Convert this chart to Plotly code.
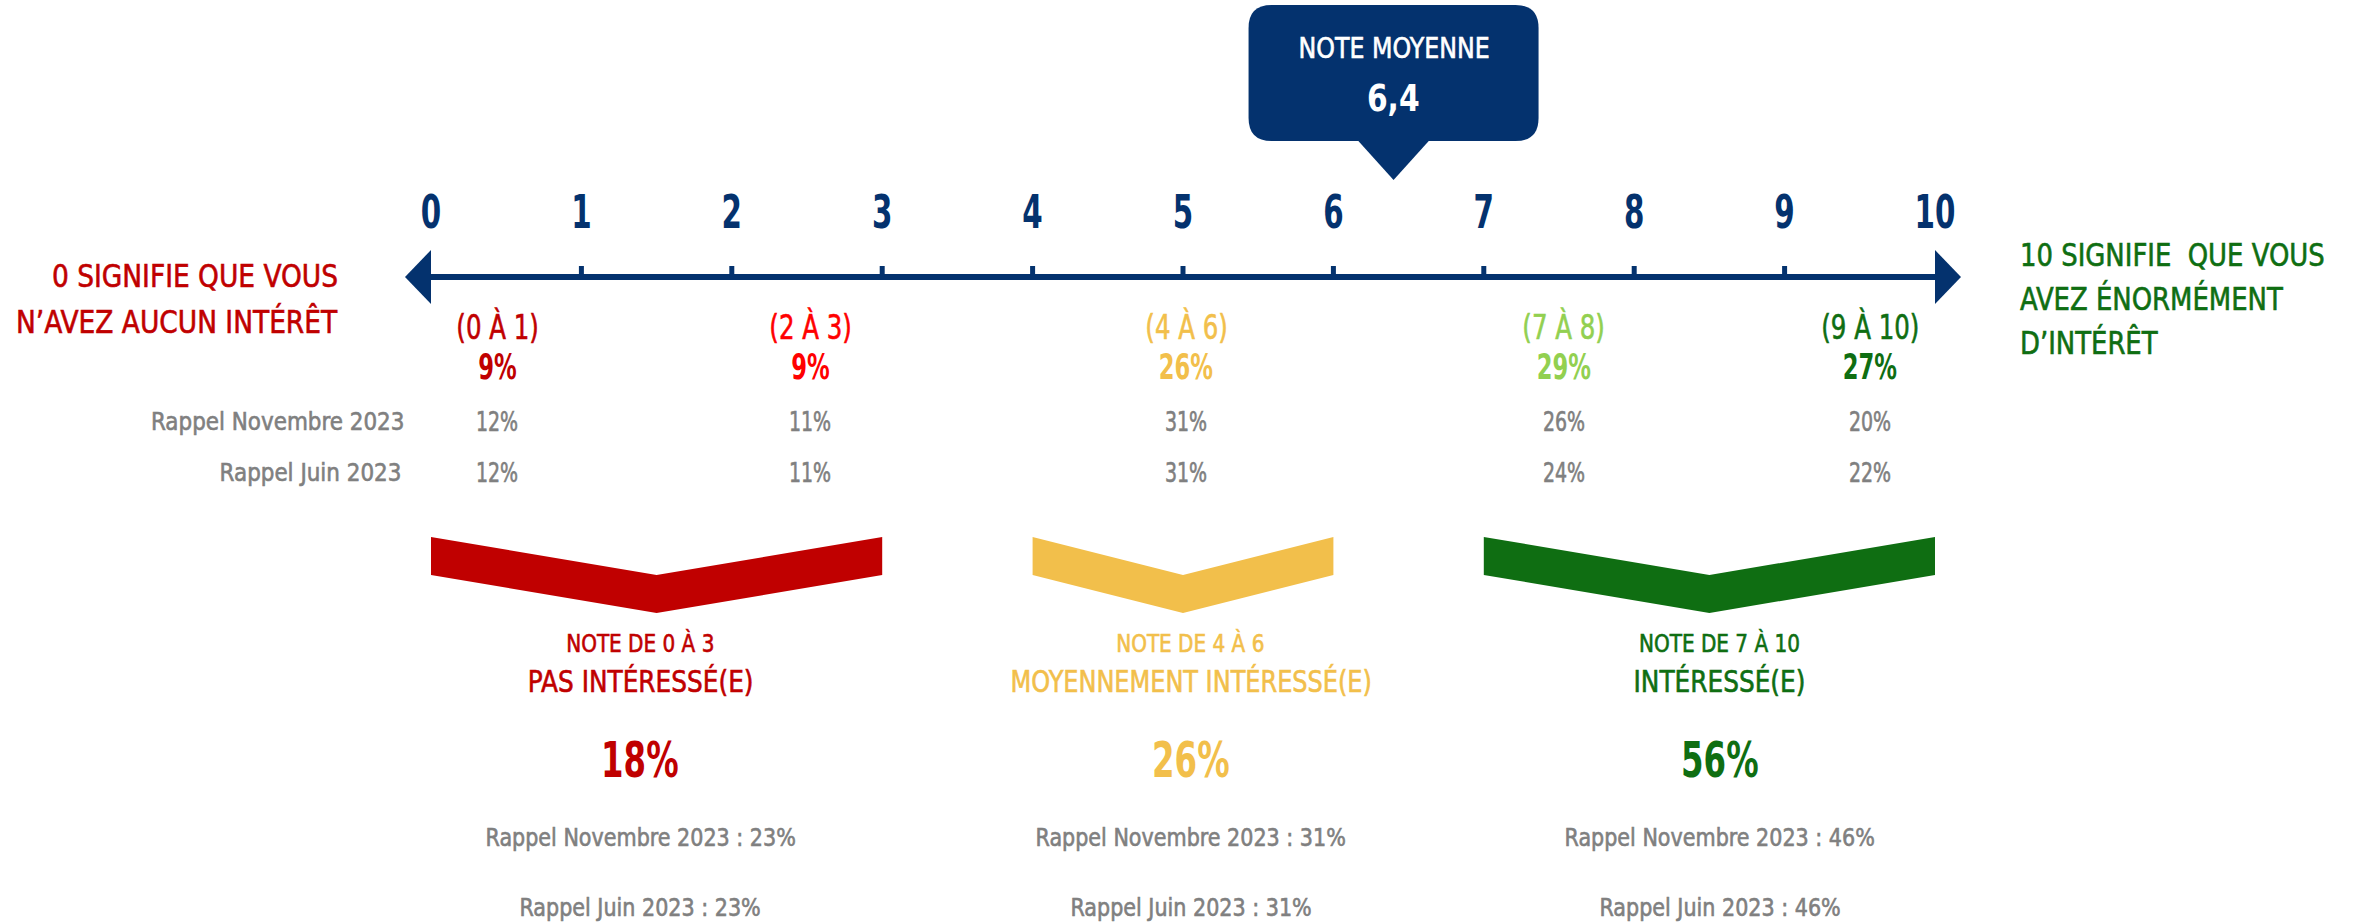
import json
import plotly.graph_objects as go

# ---------------- data ----------------
scale_ticks = [0, 1, 2, 3, 4, 5, 6, 7, 8, 9, 10]
inner_ticks = [1, 2, 3, 4, 5, 6, 7, 8, 9]
mean_score = 6.4
mean_label = "6,4"
mean_title = "NOTE MOYENNE"

cat_labels = ["(0 À 1)", "(2 À 3)", "(4 À 6)", "(7 À 8)", "(9 À 10)"]
cat_pct = [9, 9, 26, 29, 27]
cat_rappel_nov = [12, 11, 31, 26, 20]
cat_rappel_juin = [12, 11, 31, 24, 22]

grp_ranges = [(0, 3), (4, 6), (7, 10)]
grp_titles = ["NOTE DE 0 À 3", "NOTE DE 4 À 6", "NOTE DE 7 À 10"]
grp_labels = ["PAS INTÉRESSÉ(E)", "MOYENNEMENT INTÉRESSÉ(E)", "INTÉRESSÉ(E)"]
grp_pct = [18, 26, 56]
grp_rappel_nov = [23, 31, 46]
grp_rappel_juin = [23, 31, 46]

row_labels = ["Rappel Novembre 2023", "Rappel Juin 2023"]
left_text = ["0 SIGNIFIE QUE VOUS", "N’AVEZ AUCUN INTÉRÊT"]
right_text = ["10 SIGNIFIE  QUE VOUS", "AVEZ ÉNORMÉMENT", "D’INTÉRÊT"]

# ---------------- layout / style ----------------
W, H = 2356, 922
PX0, PX10 = 431, 1935            # pixel position of scale 0 and 10
S = (PX10 - PX0) / 10.0          # pixels per scale unit
XR = [-PX0 / S, (W - PX0) / S]

FONT = "DejaVu Sans Condensed, Liberation Sans Narrow, Roboto, sans-serif"
NAVY = "#04326E"
GRAY = "#808080"
cat_colors = ["#C00000", "#FF0000", "#F2BF4B", "#92D050", "#0F6E12"]
grp_colors = ["#C00000", "#F2BF4B", "#0F6E12"]
cat_x = [0.44, 2.52, 5.02, 7.53, 9.57]
grp_text_x = [1.39, 5.05, 8.57]

fig = go.Figure()

# axis line
fig.add_trace(go.Scatter(
    x=[scale_ticks[0], scale_ticks[-1]], y=[277, 277], mode="lines",
    line=dict(color=NAVY, width=6), hoverinfo="skip", showlegend=False))

# inner ticks (upward)
tx, ty = [], []
for t in inner_ticks:
    tx += [t, t, None]
    ty += [277, 266, None]
fig.add_trace(go.Scatter(x=tx, y=ty, mode="lines",
                         line=dict(color=NAVY, width=5), hoverinfo="skip", showlegend=False))

# tick labels
fig.add_trace(go.Scatter(
    x=scale_ticks, y=[217] * len(scale_ticks), mode="text",
    text=[str(t) for t in scale_ticks],
    textfont=dict(family=FONT, size=46, color=NAVY, weight="bold"),
    textposition="middle center", hoverinfo="skip", showlegend=False))

shapes = []
# arrowheads
al = 26 / S
x0, x1 = scale_ticks[0], scale_ticks[-1]
shapes.append(dict(type="path", xref="x", yref="y",
                   path=f"M {x0} 250 L {x0 - al} 277 L {x0} 304 Z",
                   fillcolor=NAVY, line=dict(width=0)))
shapes.append(dict(type="path", xref="x", yref="y",
                   path=f"M {x1} 250 L {x1 + al} 277 L {x1} 304 Z",
                   fillcolor=NAVY, line=dict(width=0)))

# mean callout box
hw = 145 / S
r = 23
rx = r / S
bl, br_ = mean_score - hw, mean_score + hw
bt, bb = 5, 141
box_path = (f"M {bl + rx} {bt} L {br_ - rx} {bt} Q {br_} {bt} {br_} {bt + r} "
            f"L {br_} {bb - r} Q {br_} {bb} {br_ - rx} {bb} "
            f"L {bl + rx} {bb} Q {bl} {bb} {bl} {bb - r} "
            f"L {bl} {bt + r} Q {bl} {bt} {bl + rx} {bt} Z")
shapes.append(dict(type="path", xref="x", yref="y", path=box_path,
                   fillcolor=NAVY, line=dict(width=0)))
tw = 37 / S
shapes.append(dict(type="path", xref="x", yref="y",
                   path=f"M {mean_score - tw} 139 L {mean_score + tw} 139 L {mean_score} 180 Z",
                   fillcolor=NAVY, line=dict(width=0)))

# chevrons
for (a, b), col in zip(grp_ranges, grp_colors):
    m = (a + b) / 2
    shapes.append(dict(type="path", xref="x", yref="y",
                       path=f"M {a} 537 L {m} 575 L {b} 537 L {b} 575 L {m} 613 L {a} 575 Z",
                       fillcolor=col, line=dict(width=0)))

ann = []
ann_sx = []
ann_org = []
ann_thick = []


def txt(x, y, s, size, color, weight="normal", xanchor="center", sx=1.0):
    ann.append(dict(x=x, y=y, xref="x", yref="y", text=s, showarrow=False,
                    xanchor=xanchor, yanchor="middle",
                    font=dict(family=FONT, size=size, color=color, weight=weight)))
    ann_sx.append(sx)
    ann_org.append(xanchor)
    ann_thick.append(0 if weight == "bold" else 1)


# callout text
txt(mean_score, 48, mean_title, 29, "white", sx=0.91)
txt(mean_score, 98, mean_label, 38, "white", "bold", sx=0.87)

# left / right explanation
for i, s in enumerate(left_text):
    txt(-91 / S, 276 + 46 * i, s, 32, "#C00000", xanchor="right", sx=0.92)
for i, s in enumerate(right_text):
    txt(10 + 83 / S, 255 + 44 * i, s, 32, "#0F6E12", xanchor="left", sx=0.9)

# category labels
for i in range(len(cat_labels)):
    txt(cat_x[i], 327, cat_labels[i], 34, cat_colors[i], sx=0.8)
    txt(cat_x[i], 366, f"{cat_pct[i]}%", 36, cat_colors[i], "bold", sx=0.7)
    txt(cat_x[i], 421, f"{cat_rappel_nov[i]}%", 27, GRAY, sx=0.78)
    txt(cat_x[i], 472, f"{cat_rappel_juin[i]}%", 27, GRAY, sx=0.78)

txt(-25 / S, 421, row_labels[0], 25, GRAY, xanchor="right", sx=0.955)
txt(-28 / S, 472, row_labels[1], 25, GRAY, xanchor="right", sx=0.955)

# group summaries
title_sx = [0.89, 0.89, 0.89]
label_sx = [0.92, 0.89, 0.92]
for i in range(len(grp_titles)):
    gx = grp_text_x[i]
    txt(gx, 643, grp_titles[i], 25, grp_colors[i], sx=title_sx[i])
    txt(gx, 681, grp_labels[i], 30, grp_colors[i], sx=label_sx[i])
    txt(gx, 760, f"{grp_pct[i]}%", 50, grp_colors[i], "bold", sx=0.72)
    txt(gx, 837, f"{row_labels[0]} : {grp_rappel_nov[i]}%", 25, GRAY, sx=0.92)
    txt(gx, 907, f"{row_labels[1]} : {grp_rappel_juin[i]}%", 25, GRAY, sx=0.92)

fig.update_layout(
    width=W, height=H, margin=dict(l=0, r=0, t=0, b=0),
    paper_bgcolor="white", plot_bgcolor="white",
    xaxis=dict(range=XR, visible=False, fixedrange=True),
    yaxis=dict(range=[H, 0], visible=False, fixedrange=True),
    shapes=shapes, annotations=ann, showlegend=False,
)

js = """
document.body.style.margin='0';
document.body.style.overflow='hidden';
var gd = document.querySelector('.plotly-graph-div');
var SX = %s;
var ORG = %s;
var THK = %s;
gd.querySelectorAll('g.annotation').forEach(function(g){
  var i = parseInt(g.getAttribute('data-index'));
  var t = g.querySelector('text');
  if (!t || isNaN(i)) return;
  t.style.transformBox = 'fill-box';
  t.style.transformOrigin = ORG[i] + ' center';
  t.style.transform = 'scaleX(' + SX[i] + ')';
  if (THK[i]) {
    t.style.stroke = t.style.fill;
    t.style.strokeWidth = '0.6px';
  }
});
gd.querySelectorAll('g.textpoint text').forEach(function(t){
  t.style.transformBox = 'fill-box';
  t.style.transformOrigin = 'center center';
  t.style.transform = 'scaleX(0.71)';
});
""" % (json.dumps(ann_sx), json.dumps(ann_org), json.dumps(ann_thick))

fig.write_html("out.html", config={"displayModeBar": False}, post_script=js)
